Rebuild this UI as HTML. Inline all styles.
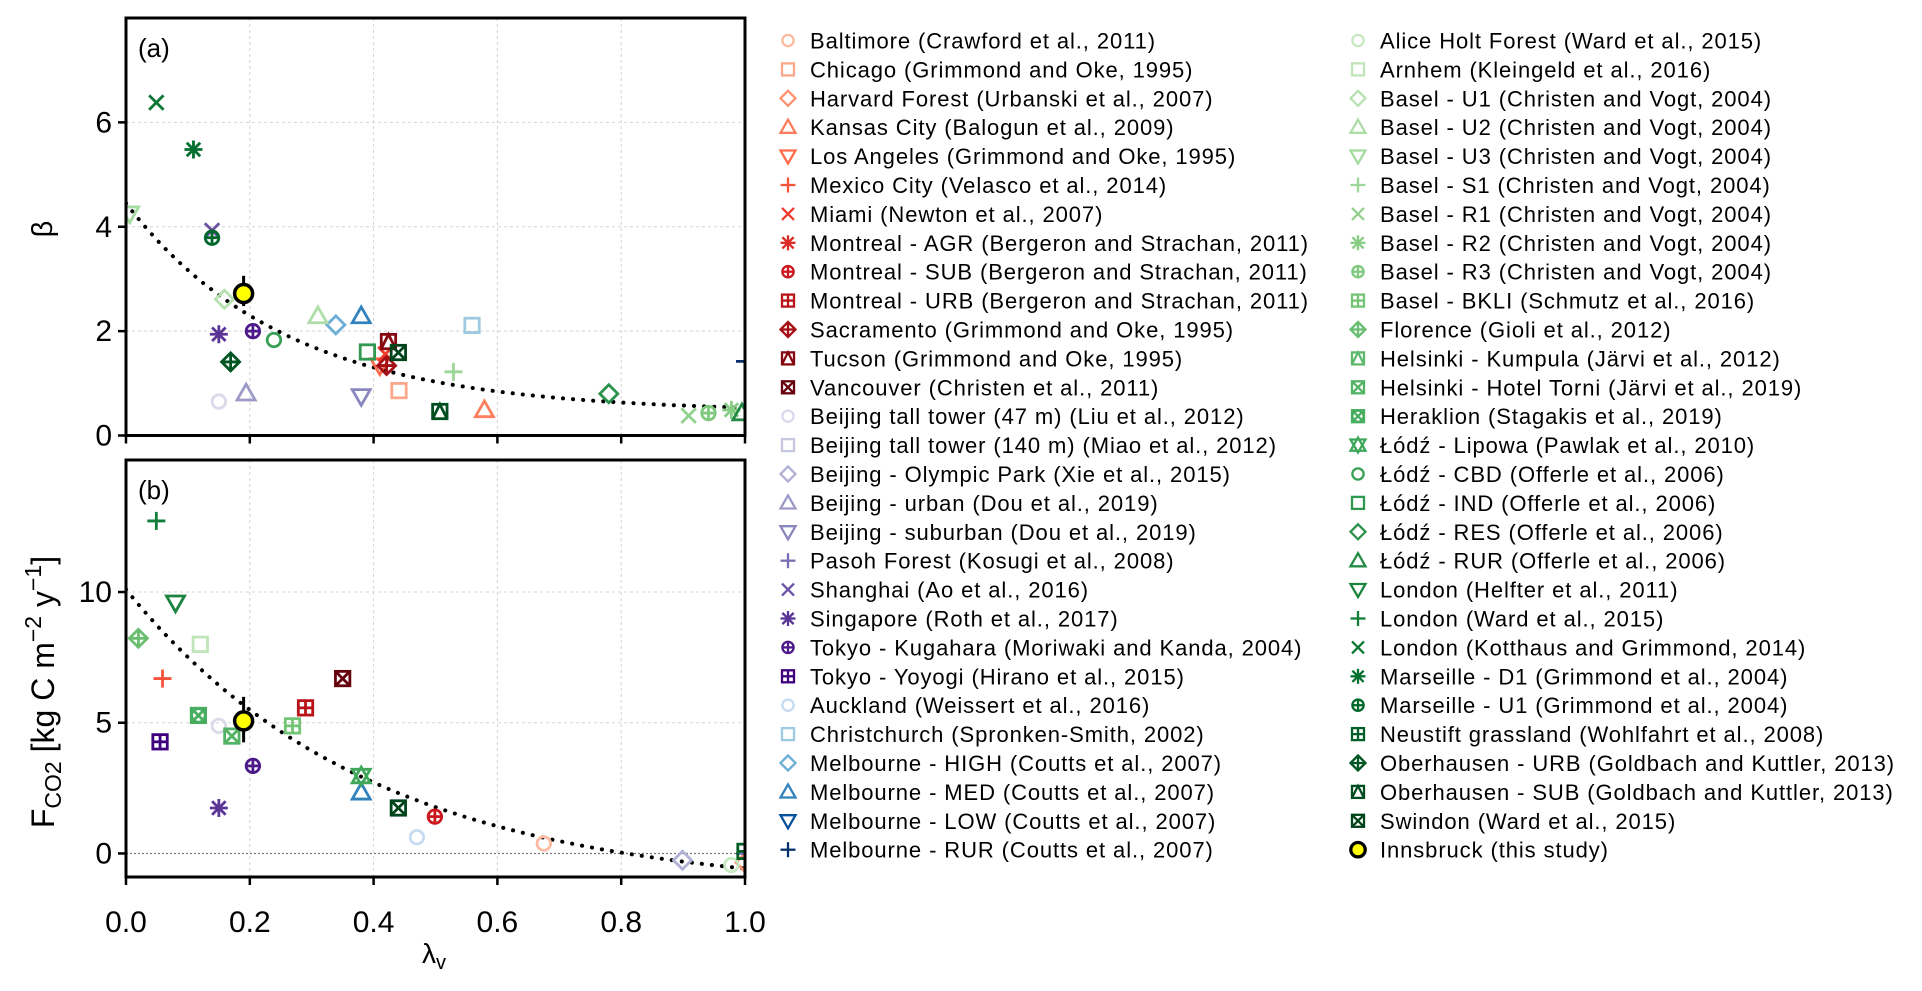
<!DOCTYPE html>
<html><head><meta charset="utf-8">
<style>
html,body{margin:0;padding:0;background:#fff;}
svg{display:block;font-family:"Liberation Sans",Arial,sans-serif;}
</style></head>
<body>
<svg id="chart" width="1922" height="991" viewBox="0 0 1922 991" xmlns="http://www.w3.org/2000/svg">
<defs>
<clipPath id="clipA"><rect x="126" y="18" width="619" height="418"/></clipPath>
<clipPath id="clipB"><rect x="126" y="460" width="619" height="417"/></clipPath>
</defs>
<g id="panelA"></g>
<g id="panelB"></g>
<g id="legend"></g>
</svg>
<script>
const siteNames = [
"Baltimore (Crawford et al., 2011)","Chicago (Grimmond and Oke, 1995)","Harvard Forest (Urbanski et al., 2007)","Kansas City (Balogun et al., 2009)","Los Angeles (Grimmond and Oke, 1995)","Mexico City (Velasco et al., 2014)","Miami (Newton et al., 2007)","Montreal - AGR (Bergeron and Strachan, 2011)","Montreal - SUB (Bergeron and Strachan, 2011)","Montreal - URB (Bergeron and Strachan, 2011)","Sacramento (Grimmond and Oke, 1995)","Tucson (Grimmond and Oke, 1995)","Vancouver (Christen et al., 2011)","Beijing tall tower (47 m) (Liu et al., 2012)","Beijing tall tower (140 m)  (Miao et al., 2012)","Beijing - Olympic Park (Xie et al., 2015)","Beijing - urban (Dou et al., 2019)","Beijing - suburban (Dou et al., 2019)","Pasoh Forest (Kosugi et al., 2008)","Shanghai (Ao et al., 2016)","Singapore (Roth et al., 2017)","Tokyo - Kugahara (Moriwaki and Kanda, 2004)","Tokyo - Yoyogi (Hirano et al., 2015)","Auckland (Weissert et al., 2016)","Christchurch (Spronken-Smith, 2002)","Melbourne - HIGH (Coutts et al., 2007)","Melbourne - MED (Coutts et al., 2007)","Melbourne - LOW (Coutts et al., 2007)","Melbourne - RUR (Coutts et al., 2007)",
"Alice Holt Forest (Ward et al., 2015)","Arnhem (Kleingeld et al., 2016)","Basel - U1 (Christen and Vogt, 2004)","Basel - U2 (Christen and Vogt, 2004)","Basel - U3 (Christen and Vogt, 2004)","Basel - S1 (Christen and Vogt, 2004)","Basel - R1 (Christen and Vogt, 2004)","Basel - R2 (Christen and Vogt, 2004)","Basel - R3 (Christen and Vogt, 2004)","Basel - BKLI (Schmutz et al., 2016)","Florence (Gioli et al., 2012)","Helsinki - Kumpula (Järvi et al., 2012)","Helsinki  - Hotel Torni (Järvi et al., 2019)","Heraklion (Stagakis et al., 2019)","Łódź - Lipowa (Pawlak et al., 2010)","Łódź - CBD (Offerle et al., 2006)","Łódź - IND (Offerle et al., 2006)","Łódź - RES (Offerle et al., 2006)","Łódź - RUR (Offerle et al., 2006)","London (Helfter et al., 2011)","London (Ward et al., 2015)","London (Kotthaus and Grimmond, 2014)","Marseille - D1 (Grimmond et al., 2004)","Marseille - U1 (Grimmond et al., 2004)","Neustift grassland (Wohlfahrt et al., 2008)","Oberhausen - URB (Goldbach and Kuttler, 2013)","Oberhausen - SUB (Goldbach and Kuttler, 2013)","Swindon (Ward et al., 2015)","Innsbruck (this study)"];
const siteSymbols = [1,0,5,2,6,3,4,8,10,12,9,14,7, 1,0,5,2,6,3,4,8,10,12, 1,0,5,2,6,3,
 1,0,5,2,6,3,4,8,10,12,9,14,7,13,11,1,0,5,2,6,3,4,8,10,12,9,14,7,99];
const lambdaV = [0.675,0.441,1.0,0.579,0.41,0.059,0.419,null,0.499,0.29,0.421,0.424,0.35,
 0.15,null,0.899,0.194,0.38,1.0,0.139,0.15,0.205,0.055,
 0.47,0.559,0.339,0.38,null,1.0,
 0.978,0.12,0.159,0.31,0.006,0.529,0.909,0.978,0.941,0.269,0.02,null,0.171,0.117,0.38,0.239,0.39,0.78,0.995,0.08,0.049,0.049,0.109,0.139,1.0,0.169,0.507,0.44,0.19];
const betaVals = [null,0.86,null,0.49,1.34,null,1.56,null,null,null,1.34,1.8,null,
 0.65,null,null,0.81,0.75,null,3.93,1.94,2.0,null,
 null,2.11,2.12,2.29,null,1.42,
 null,null,2.61,2.29,4.25,1.22,0.38,0.49,0.43,null,null,null,null,null,null,1.83,1.6,0.8,0.43,null,null,6.38,5.48,3.79,null,1.41,0.46,1.59,2.72];
const fluxVals = [0.38,null,-0.35,null,null,6.69,null,null,1.41,5.57,null,null,6.69,
 4.88,null,-0.26,null,null,0.0,null,1.74,3.35,4.27,
 0.62,null,null,2.34,null,null,
 -0.44,8.0,null,null,null,null,null,null,null,4.88,8.23,null,4.49,5.28,2.96,null,null,null,null,9.59,12.72,null,null,null,0.08,null,null,1.74,5.07];
const innsErrBeta = [2.48, 3.06];
const innsErrFlux = [4.25, 5.99];
const fitBeta = {a:4.0, b:3.86, c:0.45};
const fitFlux = {a:11.6, b:2.53, c:-1.5};
const ticksX = [0,0.2,0.4,0.6,0.8,1.0];
const tickLabelsX = ["0.0","0.2","0.4","0.6","0.8","1.0"];
const ticksA = [0,2,4,6];
const ticksB = [0,5,10];

function hex(c){return [1,3,5].map(i=>parseInt(c.substr(i,2),16));}
function lerpStops(stops,n){const out=[];for(let i=0;i<n;i++){const t=i/(n-1)*(stops.length-1);const k=Math.min(Math.floor(t),stops.length-2);const f=t-k;const a=hex(stops[k]),b=hex(stops[k+1]);out.push('rgb('+a.map((v,j)=>Math.round(v+(b[j]-v)*f)).join(',')+')');}return out;}
const colors = [].concat(
 lerpStops(['#fcbba1','#fc9272','#fb6a4a','#ef3b2c','#cb181d','#a50f15','#67000d'],13),
 lerpStops(['#dadaeb','#bcbddc','#9e9ac8','#807dba','#6a51a3','#54278f','#3f007d'],10),
 lerpStops(['#c6dbef','#9ecae1','#6baed6','#3182bd','#08519c','#08306b'],6),
 lerpStops(['#c7e9c0','#a1d99b','#74c476','#41ab5d','#238b45','#006d2c','#00441b'],28),
 ['#ffff00']);

const NS='http://www.w3.org/2000/svg';
function el(tag,attrs,parent){const e=document.createElementNS(NS,tag);for(const k in attrs)e.setAttribute(k,attrs[k]);if(parent)parent.appendChild(e);return e;}

function marker(parent,pch,cx,cy,s,col,sw){
 const g=el('g',{fill:'none',stroke:col,'stroke-width':sw},parent);
 const h=s/2;
 const sq=()=>el('rect',{x:cx-h*0.8,y:cy-h*0.8,width:h*1.6,height:h*1.6},g);
 const dia=()=>el('polygon',{points:`${cx},${cy-h} ${cx+h},${cy} ${cx},${cy+h} ${cx-h},${cy}`},g);
 const plus=(r)=>{el('line',{x1:cx-r,y1:cy,x2:cx+r,y2:cy},g);el('line',{x1:cx,y1:cy-r,x2:cx,y2:cy+r},g);};
 const xx=(r)=>{el('line',{x1:cx-r,y1:cy-r,x2:cx+r,y2:cy+r},g);el('line',{x1:cx-r,y1:cy+r,x2:cx+r,y2:cy-r},g);};
 const tri=(up)=>{const d=up?1:-1;el('polygon',{points:`${cx},${cy-d*h} ${cx+h},${cy+d*h*0.75} ${cx-h},${cy+d*h*0.75}`},g);};
 switch(pch){
  case 0: sq();break;
  case 1: el('circle',{cx:cx,cy:cy,r:h*0.75},g);break;
  case 2: tri(true);break;
  case 3: plus(h);break;
  case 4: xx(h*0.8);break;
  case 5: dia();break;
  case 6: tri(false);break;
  case 7: sq();xx(h*0.8);break;
  case 8: plus(h);xx(h*0.75);break;
  case 9: dia();plus(h);break;
  case 10: el('circle',{cx:cx,cy:cy,r:h*0.75},g);plus(h*0.75);break;
  case 11: tri(true);tri(false);break;
  case 12: sq();plus(h*0.8);break;
  case 13: el('circle',{cx:cx,cy:cy,r:h*0.75},g);sq();xx(h*0.8);break;
  case 14: sq();el('polyline',{points:`${cx-h*0.8},${cy+h*0.8} ${cx},${cy-h*0.8} ${cx+h*0.8},${cy+h*0.8}`},g);break;
  case 99: el('circle',{cx:cx,cy:cy,r:h*0.9,fill:'#ffff00',stroke:'#000','stroke-width':sw+1},g);break;
 }
 return g;
}

const X0=126,X1=745;
const sx=v=>X0+(X1-X0)*v;

function panel(gid,clipId,top,bottom,ymin,ymax,ticksY,vals,errV,fit,label,showZero){
 const g=document.getElementById(gid);
 const sy=v=>bottom-(v-ymin)/(ymax-ymin)*(bottom-top);
 ticksX.slice(1,-1).forEach(t=>{
  const l=el('line',{x1:sx(t),x2:sx(t),y1:top,y2:bottom,stroke:'#d4d4d4','stroke-width':1,'stroke-dasharray':'3 3'},g);
  
  
 });
 ticksY.forEach(t=>{
  if(t===0)return;
  const l=el('line',{x1:X0,x2:X1,y1:sy(t),y2:sy(t),stroke:'#d4d4d4','stroke-width':1,'stroke-dasharray':'3 3'},g);
  
  
 });
 if(showZero){
  const z=el('line',{x1:X0,x2:X1,y1:sy(0),y2:sy(0),stroke:'#777','stroke-width':1.3,'stroke-dasharray':'2 2'},g);
  
  
 }
 let d='';
 for(let i=0;i<=200;i++){const v=i/200;const y=fit.a*Math.exp(-fit.b*v)+fit.c;d+=(i?'L':'M')+sx(v).toFixed(1)+','+sy(y).toFixed(1);}
 const fc=el('path',{d:d,fill:'none',stroke:'#000','stroke-width':4,'stroke-linecap':'round','stroke-dasharray':'0.1 10','clip-path':`url(#${clipId})`},g);
 
 
 const pg=el('g',{'clip-path':`url(#${clipId})`},g);
 for(let i=0;i<siteNames.length-1;i++){
  if(vals[i]==null||lambdaV[i]==null)continue;
  const m=marker(pg,siteSymbols[i],sx(lambdaV[i]),sy(vals[i]),18,colors[i],2.8);
  
  
 }
 const last=siteNames.length-1;
 const eb=el('line',{x1:sx(lambdaV[last]),x2:sx(lambdaV[last]),y1:sy(errV[0]),y2:sy(errV[1]),stroke:'#000','stroke-width':3},pg);
 
 
 const im=marker(pg,99,sx(lambdaV[last]),sy(vals[last]),20,'#000',2.5);
 
 
 const box=el('rect',{x:X0,y:top,width:X1-X0,height:bottom-top,fill:'none',stroke:'#000','stroke-width':3},g);
 
 
 ticksY.forEach(t=>{
  el('line',{x1:X0-8,x2:X0,y1:sy(t),y2:sy(t),stroke:'#000','stroke-width':2.5},g);
  const tx=el('text',{x:X0-14,y:sy(t)+10,'text-anchor':'end','font-size':30,fill:'#000'},g);
  tx.textContent=t;
  
  
 });
 ticksX.forEach(t=>{el('line',{x1:sx(t),x2:sx(t),y1:bottom,y2:bottom+8,stroke:'#000','stroke-width':2.5},g);});
 const lb=el('text',{x:138,y:top+39,'font-size':26,fill:'#000'},g);
 lb.textContent=label;
 
 
 return sy;
}

panel('panelA','clipA',18,435.5,0,8,ticksA,betaVals,innsErrBeta,fitBeta,'(a)',false);
panel('panelB','clipB',460,877,-0.9,15.05,ticksB,fluxVals,innsErrFlux,fitFlux,'(b)',true);

const svg=document.getElementById('chart');
ticksX.forEach((t,i)=>{
 const tx=el('text',{x:sx(t),y:932,'text-anchor':'middle','font-size':30,fill:'#000'},svg);
 tx.textContent=tickLabelsX[i];
 
 
});
const xt=el('text',{x:434,y:963,'text-anchor':'middle','font-size':28,fill:'#000'},svg);
xt.innerHTML='λ<tspan font-size="20" dy="6">v</tspan>';


const ya=el('text',{x:52,y:229,'text-anchor':'middle','font-size':29,fill:'#000',transform:'rotate(-90 52 229)'},svg);
ya.textContent='β';


const yb=el('text',{x:54,y:692,'text-anchor':'middle','font-size':32,fill:'#000',transform:'rotate(-90 54 692)'},svg);
yb.innerHTML='F<tspan font-size="23" dy="7">CO2</tspan><tspan dy="-7"> [kg C m</tspan><tspan font-size="23" dy="-13">−2</tspan><tspan dy="13"> y</tspan><tspan font-size="23" dy="-13">−1</tspan><tspan dy="13">]</tspan>';



const lg=document.getElementById('legend');
for(let i=0;i<siteNames.length;i++){
 const col=i<29?0:1;
 const row=i<29?i:i-29;
 const cy=40.5+row*28.9;
 const mx=col?1358:788, tx=col?1380:810;
 const e=el('g',{},lg);
 
 
 marker(e,siteSymbols[i],mx,cy,i===siteNames.length-1?16:15,i===siteNames.length-1?'#000':colors[i],2.3);
 const t=el('text',{x:tx,y:cy+8,'font-size':22,'letter-spacing':'0.9',fill:'#000'},e);
 t.textContent=siteNames[i];
}
</script>
</body></html>
